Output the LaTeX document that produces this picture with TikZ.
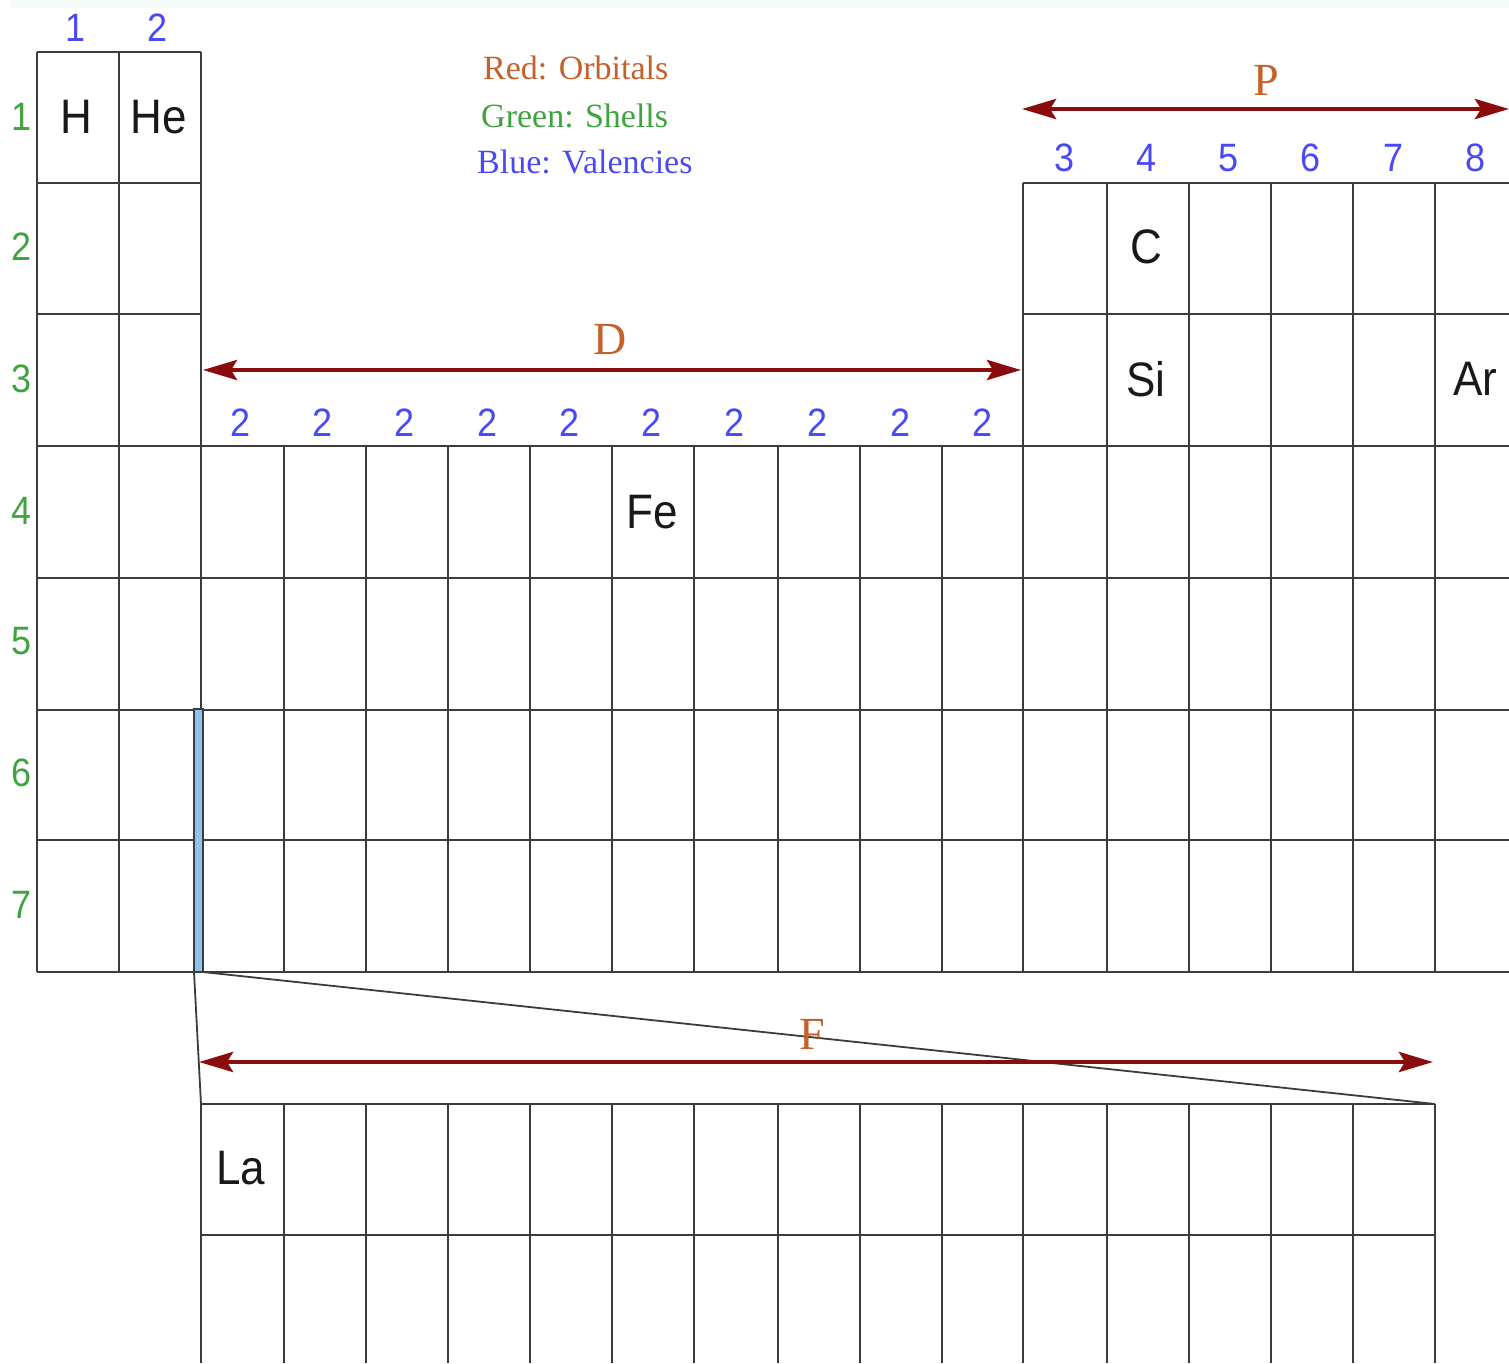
\documentclass[tikz,border=0pt]{standalone}
\usepackage{graphicx}
\usepackage{fontspec}
\setmainfont{Liberation Sans}
\newfontfamily\legendfont{Liberation Serif}
\usetikzlibrary{arrows.meta}
\definecolor{gridc}{HTML}{3C3C3C}
\definecolor{orbc}{HTML}{C4602A}
\definecolor{shellc}{HTML}{3FA33F}
\definecolor{valc}{HTML}{4A4AF5}
\definecolor{arrc}{HTML}{8B0C0C}
\definecolor{lanc}{HTML}{8EC3F0}
\definecolor{bandc}{HTML}{F4FAF8}
\newcommand\elemtxt[1]{\scalebox{1}[1.1]{#1}}
\tikzset{
  gridline/.style={draw=gridc, line width=2.6pt},
  thinline/.style={draw=gridc, line width=1.8pt},
  elem/.style={inner sep=0pt, font=\fontsize{44}{50}\selectfont, text=black!90},
  valnum/.style={inner sep=0pt, font=\fontsize{36}{40}\selectfont, text=valc},
  shellnum/.style={inner sep=0pt, font=\fontsize{36}{40}\selectfont, text=shellc},
  blocklabel/.style={inner sep=0pt, font=\legendfont\fontsize{46}{50}\selectfont, text=orbc},
  legend/.style={inner sep=0pt, anchor=west, font=\legendfont\fontsize{34}{38}\selectfont},
  orbarrow/.style={draw=arrc, line width=4.5pt, {Stealth[length=34pt,width=20pt,inset=6pt]}-{Stealth[length=34pt,width=20pt,inset=6pt]}}
}
\begin{document}
\begin{tikzpicture}[x=1pt,y=-1pt]
\useasboundingbox (0,0) rectangle (1509,1363);
\fill[bandc] (10,0) rectangle (1509,8);

% ---- main table: horizontal lines
\draw[gridline] (37,52) -- (201,52);
\draw[gridline] (37,183) -- (201,183);
\draw[gridline] (1023,183) -- (1509,183);
\draw[gridline] (37,314) -- (201,314);
\draw[gridline] (1023,314) -- (1509,314);
\foreach \yy in {446,578,710,840,972}
  \draw[gridline] (37,\yy) -- (1509,\yy);
% vertical lines
\foreach \xx in {37,119,201}
  \draw[gridline] (\xx,52) -- (\xx,972);
\foreach \xx in {1023,1107,1189,1271,1353,1435}
  \draw[gridline] (\xx,183) -- (\xx,972);
\foreach \xx in {284,366,448,530,612,694,778,860,942}
  \draw[gridline] (\xx,446) -- (\xx,972);

% ---- f-block table
\draw[gridline] (201,1104) -- (1435,1104);
\draw[gridline] (201,1235) -- (1435,1235);
\foreach \xx in {201,284,366,448,530,612,694,778,860,942,1023,1107,1189,1271,1353,1435}
  \draw[gridline] (\xx,1104) -- (\xx,1363);

% ---- lanthanide slot and expansion lines
\draw[draw=gridc, line width=1.8pt, fill=lanc] (194,709) rectangle (203,972);
\coordinate (slotL) at (194,972);
\coordinate (slotR) at (203,972);
\coordinate (fL) at (201,1104);
\coordinate (fR) at (1435,1104);
\draw[thinline] (slotL) -- (fL);
\draw[thinline] (slotR) -- (fR);

% ---- orbital arrows
\coordinate (Pl) at (1022,109);
\coordinate (Pr) at (1509,109);
\draw[orbarrow] (Pl) -- (Pr);
\coordinate (Dl) at (203,370);
\coordinate (Dr) at (1021,370);
\draw[orbarrow] (Dl) -- (Dr);
\coordinate (Fl) at (199,1062);
\coordinate (Fr) at (1433,1062);
\draw[orbarrow] (Fl) -- (Fr);

\node[blocklabel] (labP) at (1266,80) {P};
\node[blocklabel] (labD) at (610,339) {D};
\node[blocklabel] (labF) at (812,1034) {F};

% ---- legend
\node[legend, text=orbc] (legR) at (483,68) {Red: Orbitals};
\node[legend, text=shellc] (legG) at (481,116) {Green: Shells};
\node[legend, text=valc] (legB) at (477,162) {Blue: Valencies};

% ---- elements
\node[elem] (H)  at (76,117)   {\elemtxt{H}};
\node[elem] (He) at (159,117)  {\elemtxt{He}};
\node[elem] (C)  at (1146,247) {\elemtxt{C}};
\node[elem] (Si) at (1146,379) {\elemtxt{Si}};
\node[elem] (Ar) at (1475,379) {\elemtxt{Ar}};
\node[elem] (Fe) at (652,512)  {\elemtxt{Fe}};
\node[elem] (La) at (241,1168) {\elemtxt{La}};

% ---- valencies (blue)
\node[valnum] (v1) at (76,28)  {\elemtxt{1}};
\node[valnum] (v2) at (158,28) {\elemtxt{2}};
\node[valnum] (v3) at (1064,158) {\elemtxt{3}};
\node[valnum] (v4) at (1146,158) {\elemtxt{4}};
\node[valnum] (v5) at (1228,158) {\elemtxt{5}};
\node[valnum] (v6) at (1310,158) {\elemtxt{6}};
\node[valnum] (v7) at (1393,158) {\elemtxt{7}};
\node[valnum] (v8) at (1475,158) {\elemtxt{8}};
\foreach \xx [count=\i] in {241,323,405,488,570,652,735,817,900,982}
  \node[valnum] (d\i) at (\xx,423) {\elemtxt{2}};

% ---- shells (green)
\foreach \yy [count=\i] in {117,247,379,511,641,773,905}
  \node[shellnum] (s\i) at (22,\yy) {\elemtxt{\i}};
\end{tikzpicture}
\end{document}
